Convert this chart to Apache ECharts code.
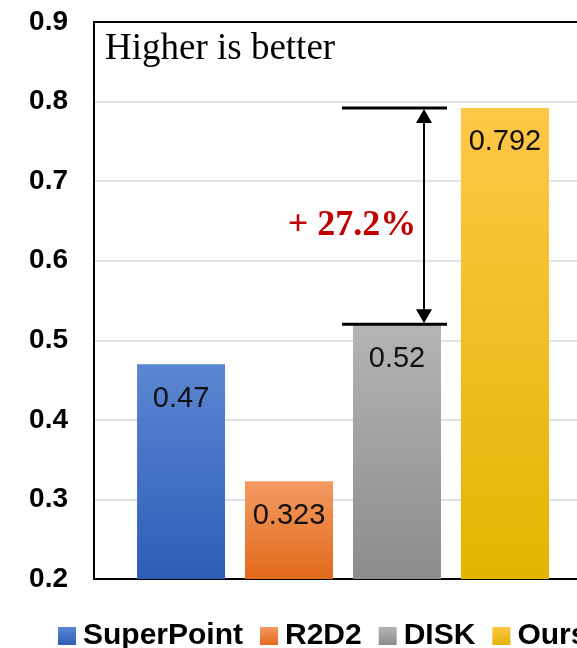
<!DOCTYPE html>
<html>
<head>
<meta charset="utf-8">
<script src="https://cdn.jsdelivr.net/npm/echarts@6/dist/echarts.min.js"></script>
<style>
  html, body { margin: 0; padding: 0; background: #fff; overflow: hidden; }
  /* plot frame runs past the right edge of the window, so the canvas is wider than the view */
  #chart { width: 620px; height: 648px; }
</style>
</head>
<body>
<div id="chart"></div>
<script>
// Matching scores per method (single group, one bar per method)
const categories = [''];
const methods = ['SuperPoint', 'R2D2', 'DISK', 'Ours'];
const scores = [0.47, 0.323, 0.52, 0.792];
const yMin = 0.2, yMax = 0.9, yStep = 0.1;
const noteText = 'Higher is better';
const gainText = '+ 27.2%';
const gainFrom = 2, gainTo = 3;   // DISK -> Ours

// vertical gradient fills, top colour then bottom colour
const fills = [
  ['#5b86d2', '#2d5db7'],
  ['#f39a63', '#e2691a'],
  ['#b4b4b4', '#8c8c8c'],
  ['#ffc747', '#e4b400']
];

const chart = echarts.init(document.getElementById('chart'), null, { renderer: 'canvas' });

const series = methods.map((name, i) => ({
  name: name,
  type: 'bar',
  data: [scores[i]],
  barWidth: 88,
  barGap: '22.7%',
  itemStyle: {
    color: new echarts.graphic.LinearGradient(0, 0, 0, 1, [
      { offset: 0, color: fills[i][0] },
      { offset: 1, color: fills[i][1] }
    ])
  },
  label: {
    show: true,
    position: 'insideTop',
    distance: 20,
    formatter: '{c}',
    color: '#111',
    fontSize: 29,
    fontFamily: '"Liberation Sans", Arial, sans-serif',
    fontWeight: 'normal'
  }
}));

const frameAxis = { show: true, lineStyle: { color: '#000', width: 2 } };

chart.setOption({
  animation: false,
  grid: {
    left: 94, top: 22, width: 498, height: 557,
    show: false
  },
  legend: {
    data: methods,
    left: 58, top: 621, width: 560, padding: 0,
    icon: 'rect',
    itemWidth: 18, itemHeight: 18, itemGap: 17,
    textStyle: {
      fontSize: 30, fontWeight: 'bold', color: '#000',
      fontFamily: '"Liberation Sans", Arial, sans-serif',
      padding: [0, 0, 0, 2]
    }
  },
  xAxis: [
    {
      type: 'category',
      data: categories,
      axisLine: frameAxis,
      axisTick: { show: false },
      axisLabel: { show: false },
      splitLine: { show: false }
    },
    {
      // top edge of the plot frame
      type: 'category',
      position: 'top',
      data: categories,
      axisLine: frameAxis,
      axisTick: { show: false },
      axisLabel: { show: false },
      splitLine: { show: false },
      z: 5
    }
  ],
  yAxis: {
    type: 'value',
    min: yMin, max: yMax, interval: yStep,
    axisLine: frameAxis,
    axisTick: { show: false },
    axisLabel: {
      margin: 26,
      fontSize: 28, fontWeight: 'bold', color: '#000',
      fontFamily: '"Liberation Sans", Arial, sans-serif',
      formatter: v => v.toFixed(1)
    },
    splitLine: { show: true, lineStyle: { color: '#dfe3e8', width: 2 } }
  },
  series: series
});

// Improvement bracket between two bars, placed on the value scale
const yHi = chart.convertToPixel({ yAxisIndex: 0 }, scores[gainTo]);
const yLo = chart.convertToPixel({ yAxisIndex: 0 }, scores[gainFrom]);
const bx0 = 342, bx1 = 447, ax = 424;
const headW = 16, headH = 14;

chart.setOption({
  graphic: [
    {
      type: 'text', z: 10, x: 105, y: 49,
      style: {
        text: noteText, fill: '#000',
        verticalAlign: 'middle',
        font: '37px "Liberation Serif", "Times New Roman", serif'
      }
    },
    { type: 'line', z: 10, shape: { x1: bx0, y1: yHi, x2: bx1, y2: yHi }, style: { stroke: '#000', lineWidth: 3 } },
    { type: 'line', z: 10, shape: { x1: bx0, y1: yLo, x2: bx1, y2: yLo }, style: { stroke: '#000', lineWidth: 3 } },
    { type: 'line', z: 10, shape: { x1: ax, y1: yHi + headH, x2: ax, y2: yLo - headH }, style: { stroke: '#000', lineWidth: 2 } },
    { type: 'polygon', z: 10, shape: { points: [[ax, yHi + 1], [ax - headW / 2, yHi + headH + 1], [ax + headW / 2, yHi + headH + 1]] }, style: { fill: '#000' } },
    { type: 'polygon', z: 10, shape: { points: [[ax, yLo - 1], [ax - headW / 2, yLo - headH - 1], [ax + headW / 2, yLo - headH - 1]] }, style: { fill: '#000' } },
    {
      type: 'text', z: 10,
      x: 352, y: (yHi + yLo) / 2 + 10,
      style: {
        text: gainText, fill: '#c00000',
        align: 'center', verticalAlign: 'middle',
        font: 'bold 36px "Liberation Serif", "Times New Roman", serif'
      }
    }
  ]
});
</script>
</body>
</html>
